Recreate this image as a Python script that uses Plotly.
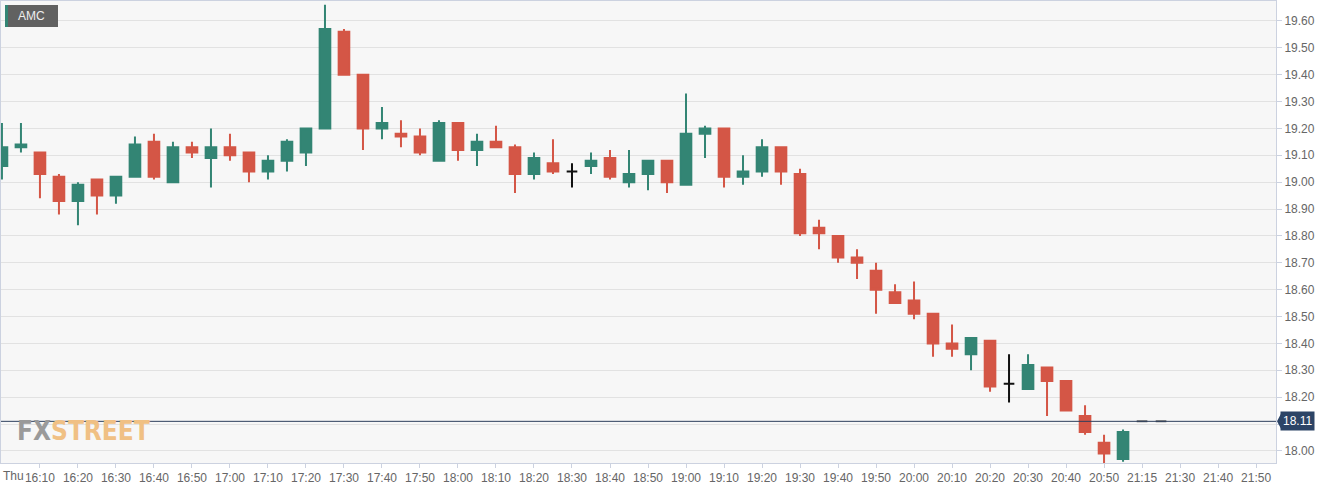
import plotly.graph_objects as go

# ---------------- data (5-minute bars, AMC) ----------------
idx = list(range(60))
opens  = [19.06,19.13,19.11,19.02,18.93,19.01,18.95,19.02,19.15,19.00,
          19.13,19.09,19.13,19.11,19.04,19.08,19.11,19.20,19.56,19.40,
          19.20,19.18,19.17,19.08,19.22,19.12,19.15,19.13,19.03,19.07,
          19.04,19.06,19.09,19.00,19.03,19.08,18.99,19.18,19.20,19.02,
          19.04,19.13,19.03,18.83,18.80,18.72,18.67,18.59,18.56,18.51,
          18.40,18.36,18.41,18.25,18.23,18.31,18.26,18.13,18.03,17.97]
highs  = [19.22,19.22,19.11,19.03,19.00,19.01,19.02,19.17,19.18,19.15,
          19.15,19.20,19.18,19.11,19.10,19.16,19.20,19.66,19.57,19.40,
          19.28,19.23,19.20,19.23,19.22,19.18,19.21,19.14,19.11,19.16,
          19.07,19.11,19.12,19.12,19.08,19.08,19.33,19.21,19.20,19.10,
          19.16,19.13,19.05,18.86,18.80,18.75,18.70,18.62,18.63,18.51,
          18.47,18.42,18.41,18.36,18.36,18.31,18.26,18.17,18.06,18.08]
lows   = [19.01,19.11,18.94,18.88,18.84,18.88,18.92,19.02,19.01,19.00,
          19.09,18.98,19.08,19.00,19.01,19.04,19.06,19.20,19.40,19.12,
          19.16,19.13,19.10,19.08,19.08,19.06,19.13,18.96,19.01,19.03,
          18.98,19.03,19.01,18.98,18.97,18.96,18.99,19.09,18.98,18.99,
          19.02,18.99,18.80,18.75,18.70,18.64,18.51,18.55,18.49,18.35,
          18.35,18.30,18.22,18.18,18.23,18.13,18.15,18.06,17.94,17.96]
closes = [19.13,19.14,19.03,18.93,18.99,18.95,19.02,19.14,19.02,19.13,
          19.11,19.13,19.10,19.04,19.08,19.15,19.20,19.57,19.40,19.20,
          19.22,19.17,19.11,19.22,19.12,19.15,19.13,19.03,19.09,19.04,
          19.04,19.08,19.02,19.03,19.08,19.00,19.18,19.20,19.02,19.04,
          19.13,19.04,18.81,18.81,18.72,18.70,18.60,18.55,18.51,18.40,
          18.38,18.42,18.24,18.25,18.32,18.26,18.15,18.07,17.99,18.07]
doji_idx = [30, 53]
flat_idx = [60, 61]
flat_price = [18.11, 18.11]
last_price = 18.11

tick_pos = list(range(2, 67, 2))
tick_text = ["16:10","16:20","16:30","16:40","16:50","17:00","17:10","17:20","17:30","17:40",
             "17:50","18:00","18:10","18:20","18:30","18:40","18:50","19:00","19:10","19:20",
             "19:30","19:40","19:50","20:00","20:10","20:20","20:30","20:40","20:50","21:15",
             "21:30","21:40","21:50"]
y_ticks = [round(18.0 + 0.1 * i, 2) for i in range(17)]

GREEN = "#338574"
RED = "#d45646"

main = [i for i in idx if i not in doji_idx]
fig = go.Figure()
fig.add_trace(go.Candlestick(
    x=[idx[i] for i in main], open=[opens[i] for i in main], high=[highs[i] for i in main],
    low=[lows[i] for i in main], close=[closes[i] for i in main],
    increasing=dict(line=dict(color=GREEN, width=2), fillcolor=GREEN),
    decreasing=dict(line=dict(color=RED, width=2), fillcolor=RED),
    hoverinfo="skip", showlegend=False))
fig.add_trace(go.Candlestick(
    x=doji_idx, open=[opens[i] for i in doji_idx], high=[highs[i] for i in doji_idx],
    low=[lows[i] for i in doji_idx], close=[closes[i] for i in doji_idx],
    increasing=dict(line=dict(color="#111111", width=2), fillcolor="#111111"),
    decreasing=dict(line=dict(color="#111111", width=2), fillcolor="#111111"),
    hoverinfo="skip", showlegend=False))
fig.add_trace(go.Candlestick(
    x=flat_idx, open=flat_price, high=flat_price, low=flat_price, close=flat_price,
    increasing=dict(line=dict(color="#666666", width=2), fillcolor="#666666"),
    decreasing=dict(line=dict(color="#666666", width=2), fillcolor="#666666"),
    hoverinfo="skip", showlegend=False))

PW = 1275.0
PH = 462.0
shapes = [
    dict(type="line", xref="paper", yref="y", x0=0, x1=1, y0=last_price, y1=last_price,
         line=dict(color="#2c3e5c", width=1)),
    dict(type="rect", xref="paper", yref="paper", x0=4/PW, x1=57/PW, y0=1-4/PH, y1=1-26/PH,
         fillcolor="#616161", line=dict(width=0)),
    dict(type="rect", xref="paper", yref="paper", x0=4/PW, x1=7/PW, y0=1-4/PH, y1=1-26/PH,
         fillcolor=GREEN, line=dict(width=0)),
    dict(type="path", xref="paper", yref="y",
         path=f"M {1+1/PW} {last_price} L {1+5/PW} {last_price+0.028} L {1+5/PW} {last_price-0.028} Z",
         fillcolor="#2c4466", line=dict(width=0)),
]

annotations = [
    dict(text="AMC", xref="paper", yref="paper", x=15/PW, y=1-15/PH, xanchor="left", yanchor="middle",
         showarrow=False, font=dict(color="#eeeeee", size=12, family="Liberation Sans, Arial")),
    dict(text="18.11", xref="paper", yref="y", x=1+4/PW, y=last_price, xanchor="left", yanchor="middle",
         showarrow=False, bgcolor="#2c4466", borderpad=2,
         font=dict(color="white", size=12, family="Liberation Sans, Arial")),
    dict(text="Thu", xref="paper", yref="paper", x=0, y=-13/PH, xanchor="left", yanchor="middle",
         showarrow=False, font=dict(color="#666666", size=12, family="Liberation Sans, Arial")),
    dict(text="<b><span style='color:#9a9a9a'>FX</span><span style='color:#f0c084'>STREET</span></b>",
         xref="paper", yref="paper", x=14/PW, y=1-(430.5-1)/PH, xanchor="left", yanchor="middle",
         showarrow=False, font=dict(size=26, family="DejaVu Sans Condensed")),
]

fig.update_layout(
    width=1340, height=489,
    margin=dict(l=1, r=64, t=1, b=26),
    paper_bgcolor="white", plot_bgcolor="#f7f7f7",
    shapes=shapes, annotations=annotations,
    showlegend=False, boxgap=0.2,
    font=dict(family="Liberation Sans, Arial", size=12, color="#666666"),
    xaxis=dict(range=[-0.05, 67.05], tickvals=tick_pos, ticktext=tick_text,
               rangeslider=dict(visible=False), showgrid=False, zeroline=False,
               ticks="outside", ticklen=4, tickcolor="#ccd2e0",
               showline=True, linecolor="#ccd2e0", linewidth=1, mirror=True,
               tickfont=dict(size=12, color="#666666")),
    yaxis=dict(side="right", range=[17.955, 19.674], tickvals=y_ticks,
               ticktext=["" if abs(v - 18.1) < 1e-9 else f"{v:.2f}" for v in y_ticks],
               showgrid=True, gridcolor="#e2e2e2", gridwidth=1, zeroline=False,
               ticks="outside", ticklen=5, tickcolor="#ccd2e0",
               showline=True, linecolor="#ccd2e0", linewidth=1, mirror=True,
               tickfont=dict(size=12, color="#666666")),
)

fig.write_html("out.html", config={"displayModeBar": False},
               post_script="document.body.style.margin='0';document.body.style.overflow='hidden';")
